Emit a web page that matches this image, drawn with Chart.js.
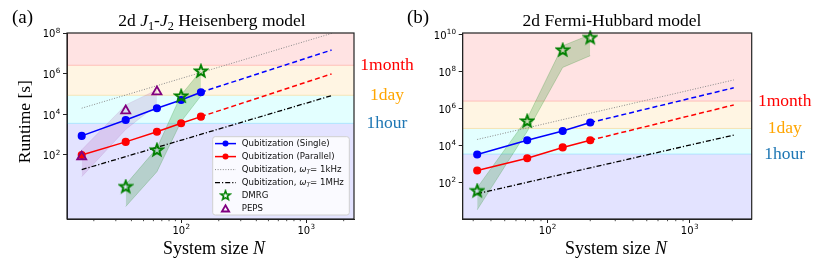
<!DOCTYPE html>
<html>
<head>
<meta charset="utf-8">
<script src="https://cdn.jsdelivr.net/npm/chart.js@4.4.1/dist/chart.umd.min.js"></script>
<style>
html, body { margin: 0; padding: 0; background: #fff; }
#wrap { position: relative; width: 822px; height: 265px; overflow: hidden; }
canvas { position: absolute; top: 0; }
#cA { left: 0; }
#cB { left: 400px; }
</style>
</head>
<body>
<div id="wrap">
  <canvas id="cA" width="420" height="265"></canvas>
  <canvas id="cB" width="422" height="265"></canvas>
</div>
<script>
// ------------------------------------------------------------------
// DATA  (a) 2d J1-J2 Heisenberg
// ------------------------------------------------------------------
const HB_N            = [16, 36, 64, 100, 144];
const HB_SINGLE       = [870, 5300, 20000, 51000, 122000];
const HB_PARALLEL     = [100, 440, 1400, 3650, 7700];
const HB_EXT_N        = [144, 1600];
const HB_SINGLE_EXT   = [122000, 1.45e7];
const HB_PARALLEL_EXT = [7700, 9.7e5];
const HB_RATE_N       = [16, 1600];
const HB_1KHZ         = [2.0e4, 9.5e7];
const HB_1MHZ         = [19, 8.3e4];
const HB_DMRG_N       = [36, 64, 100, 144];
const HB_DMRG         = [2.8, 178, 8.0e4, 1.35e6];
const HB_DMRG_HI      = [3.5, 220, 9.0e4, 1.4e6];
const HB_DMRG_LO      = [0.29, 15, 4400, 8.0e4];
const HB_PEPS_N       = [16, 36, 64];
const HB_PEPS         = [83, 1.5e4, 1.3e5];
const HB_PEPS_HI      = [180, 2.9e4, 1.6e5];
const HB_PEPS_LO      = [8.5, 1800, 2.9e4];

// ------------------------------------------------------------------
// DATA  (b) 2d Fermi-Hubbard
// ------------------------------------------------------------------
const FH_N            = [32, 72, 128, 200];
const FH_SINGLE       = [3400, 2.0e4, 6.3e4, 1.8e5];
const FH_PARALLEL     = [465, 2150, 8200, 2.0e4];
const FH_EXT_N        = [200, 2048];
const FH_SINGLE_EXT   = [1.8e5, 1.35e7];
const FH_PARALLEL_EXT = [2.0e4, 1.6e6];
const FH_RATE_N       = [32, 2048];
const FH_1KHZ         = [2.2e4, 3.6e7];
const FH_1MHZ         = [26, 3.8e4];
const FH_DMRG_N       = [32, 72, 128, 200];
const FH_DMRG         = [38, 2.2e5, 1.5e9, 7.0e9];
const FH_DMRG_HI      = [55, 3.0e5, 2.5e9, 1.0e10];
const FH_DMRG_LO      = [3.5, 6.0e4, 1.7e8, 7.3e8];

// ------------------------------------------------------------------
// AXES / LABELS
// ------------------------------------------------------------------
const HB_Y_TICKS = [1e2, 1e4, 1e6, 1e8];
const FH_Y_TICKS = [1e2, 1e4, 1e6, 1e8, 1e10];
const X_TICKS    = [100, 1000];
const HB_X_MINOR = [20, 30, 40, 50, 60, 70, 80, 90, 200, 300, 400, 500, 600, 700, 800, 900, 2000];
const FH_X_MINOR = [30, 40, 50, 60, 70, 80, 90, 200, 300, 400, 500, 600, 700, 800, 900, 2000];

const TIME_LIMITS = [3600, 86400, 2592000];          // 1 hour, 1 day, 1 month [s]
const TIME_LABELS = ["1hour", "1day", "1month"];
const TIME_COLORS = ["#1f77b4", "orange", "red"];

const LEGEND_LABELS = [
    "Qubitization (Single)",
    "Qubitization (Parallel)",
    "Qubitization, ω_T= 1kHz",
    "Qubitization, ω_T= 1MHz",
    "DMRG",
    "PEPS"
];

const SERIF = "'Liberation Serif', 'DejaVu Serif', serif";
const SANS  = "'DejaVu Sans', sans-serif";

// ------------------------------------------------------------------
function pts(xs, ys) {
    return xs.map((x, i) => ({ x: x, y: ys[i] }));
}

function starImage(color) {
    const c = document.createElement("canvas");
    c.width = 16; c.height = 16;
    const g = c.getContext("2d");
    g.beginPath();
    for (let k = 0; k < 10; k++) {
        const r = k % 2 ? 2.6 : 6.2;
        const a = -Math.PI / 2 + k * Math.PI / 5;
        g.lineTo(8 + r * Math.cos(a), 8.4 + r * Math.sin(a));
    }
    g.closePath();
    g.lineWidth = 1.9;
    g.strokeStyle = color;
    g.stroke();
    return c;
}
const STAR = starImage("#008000");

function fontOf(s, size, family) {
    return (s.i ? "italic " : "") + (s.sub ? size * 0.7 : size) + "px " + family;
}

function drawRich(ctx, segs, x, y, size, family, align) {
    let w = 0;
    segs.forEach(s => { ctx.font = fontOf(s, size, family); w += ctx.measureText(s.t).width; });
    let cx = align === "center" ? x - w / 2 : x;
    segs.forEach(s => {
        ctx.font = fontOf(s, size, family);
        ctx.fillText(s.t, cx, y + (s.sub ? size * 0.25 : 0));
        cx += ctx.measureText(s.t).width;
    });
}

// "10" with a raised exponent, like matplotlib's log tick labels
function drawPow(ctx, v, x, y, align) {
    const e = String(Math.round(Math.log10(v)));
    ctx.font = "10px " + SANS;
    const wb = ctx.measureText("10").width;
    ctx.font = "7.2px " + SANS;
    const we = ctx.measureText(e).width;
    const left = align === "right" ? x - wb - we : x - (wb + we) / 2;
    ctx.textAlign = "left";
    ctx.textBaseline = "alphabetic";
    ctx.font = "10px " + SANS;
    ctx.fillText("10", left, y);
    ctx.font = "7.2px " + SANS;
    ctx.fillText(e, left + wb + 0.3, y - 4.6);
}

function legendSegs(label) {
    if (!label.includes("ω_T")) return [{ t: label }];
    const [a, b] = label.split("ω_T");
    return [{ t: a }, { t: "ω", i: 1 }, { t: "T", i: 1, sub: 1 }, { t: b }];
}

// ------------------------------------------------------------------
// datasets
// ------------------------------------------------------------------
function lineDs(data, color, opts) {
    return Object.assign({
        data: data,
        borderColor: color,
        backgroundColor: color,
        borderWidth: 1.5,
        pointRadius: 0,
        fill: false,
        tension: 0
    }, opts || {});
}

function buildDatasets(p) {
    const ds = [
        // 0 DMRG
        lineDs(pts(p.dmrgN, p.dmrg), "#008000", { showLine: false, pointStyle: STAR, pointRadius: 6, clip: false }),
        // 1 PEPS
        lineDs(p.pepsN ? pts(p.pepsN, p.peps) : [], "#800080", {
            showLine: false, pointStyle: "triangle", pointRadius: 5.2,
            backgroundColor: "rgba(0,0,0,0)", pointBorderWidth: 1.8, clip: false
        }),
        // 2 single
        lineDs(pts(p.n, p.single), "#0000ff", { pointRadius: 3.3 }),
        // 3 parallel
        lineDs(pts(p.n, p.parallel), "#ff0000", { pointRadius: 3.3 }),
        // 4,5 extrapolations
        lineDs(pts(p.extN, p.singleExt), "#0000ff", { borderDash: [5, 3] }),
        lineDs(pts(p.extN, p.parallelExt), "#ff0000", { borderDash: [5, 3] }),
        // 6 1kHz
        lineDs(pts(p.rateN, p.khz), "#888888", { borderWidth: 1, borderDash: [1, 1.6] }),
        // 7 1MHz
        lineDs(pts(p.rateN, p.mhz), "#000000", { borderWidth: 1.3, borderDash: [5, 2, 1.2, 2] }),
        // 8,9 DMRG band
        lineDs(pts(p.dmrgN, p.dmrgHi), "rgba(0,128,0,0.25)", { borderWidth: 0.8, fill: "+1", backgroundColor: "rgba(0,128,0,0.2)" }),
        lineDs(pts(p.dmrgN, p.dmrgLo), "rgba(0,128,0,0.25)", { borderWidth: 0.8 })
    ];
    if (p.pepsN) {
        ds.push(lineDs(pts(p.pepsN, p.pepsHi), "rgba(128,0,128,0.12)", { borderWidth: 0.8, fill: "+1", backgroundColor: "rgba(128,0,128,0.12)" }));
        ds.push(lineDs(pts(p.pepsN, p.pepsLo), "rgba(128,0,128,0.12)", { borderWidth: 0.8 }));
    }
    return ds;
}

// ------------------------------------------------------------------
// plugins
// ------------------------------------------------------------------
const BAND_FILLS = ["rgba(0,0,255,0.11)", "rgba(0,255,255,0.11)", "rgba(255,165,0,0.11)", "rgba(255,0,0,0.11)"];
const BAND_EDGES = ["rgba(0,0,255,0.2)", "rgba(0,200,255,0.25)", "rgba(255,165,0,0.25)", "rgba(255,0,0,0.2)"];

function panelPlugin(p) {
    return {
        id: "panel_" + p.canvas,
        beforeDatasetsDraw(chart) {
            const ctx = chart.ctx, a = chart.chartArea, y = chart.scales.y;
            const edges = [y.min].concat(TIME_LIMITS).concat([y.max]);
            ctx.save();
            for (let i = 0; i < 4; i++) {
                const y0 = y.getPixelForValue(edges[i]);
                const y1 = y.getPixelForValue(edges[i + 1]);
                ctx.fillStyle = BAND_FILLS[i];
                ctx.fillRect(a.left, y1, a.right - a.left, y0 - y1);
            }
            for (let i = 0; i < TIME_LIMITS.length; i++) {
                const yy = y.getPixelForValue(TIME_LIMITS[i]);
                ctx.strokeStyle = BAND_EDGES[i + 1];
                ctx.lineWidth = 1;
                ctx.beginPath();
                ctx.moveTo(a.left, yy); ctx.lineTo(a.right, yy);
                ctx.stroke();
            }
            ctx.restore();
        },
        afterDraw(chart) {
            const ctx = chart.ctx, a = chart.chartArea, x = chart.scales.x, y = chart.scales.y;
            ctx.save();
            // frame
            ctx.strokeStyle = "#222";
            ctx.lineWidth = 1.2;
            ctx.strokeRect(a.left, a.top, a.right - a.left, a.bottom - a.top);
            // minor x ticks
            ctx.lineWidth = 0.8;
            p.xMinor.forEach(v => {
                const px = x.getPixelForValue(v);
                ctx.beginPath();
                ctx.moveTo(px, a.bottom); ctx.lineTo(px, a.bottom + 2.2);
                ctx.stroke();
            });
            // tick labels
            ctx.fillStyle = "#000";
            y.ticks.forEach(t => drawPow(ctx, t.value, a.left - 7, y.getPixelForValue(t.value) + 4.2, "right"));
            x.ticks.forEach(t => drawPow(ctx, t.value, x.getPixelForValue(t.value), a.bottom + 15, "center"));
            // time labels
            ctx.textAlign = "center";
            ctx.textBaseline = "alphabetic";
            ctx.font = "17.5px " + SERIF;
            TIME_LIMITS.forEach((v, i) => {
                ctx.fillStyle = TIME_COLORS[i];
                ctx.fillText(TIME_LABELS[i], a.right + 33, y.getPixelForValue(v) + 4.8);
            });
            // tag, title, x label
            ctx.fillStyle = "#000";
            ctx.textAlign = "left";
            ctx.font = "19px " + SERIF;
            ctx.fillText(p.tag, p.tagX, 22.5);
            drawRich(ctx, p.title, p.titleX, 26, 17.5, SERIF, "center");
            drawRich(ctx, [{ t: "System size " }, { t: "N", i: 1 }], p.xlabelX, 254, 18, SERIF, "center");
            if (p.ylabel) {
                ctx.translate(29.5, 121.7);
                ctx.rotate(-Math.PI / 2);
                ctx.textAlign = "center";
                ctx.font = "17.5px " + SERIF;
                ctx.fillText(p.ylabel, 0, 0);
                ctx.setTransform(1, 0, 0, 1, 0, 0);
            }
            ctx.restore();
            if (p.legend) drawLegend(chart);
        }
    };
}

function drawLegend(chart) {
    const ctx = chart.ctx;
    const ds = chart.data.datasets;
    const box = { x: 212.7, y: 136.7, w: 136.6, h: 78.3 };
    const rows = [2, 3, 6, 7, 0, 1];
    ctx.save();
    ctx.beginPath();
    ctx.roundRect(box.x, box.y, box.w, box.h, 2.5);
    ctx.fillStyle = "rgba(255,255,255,0.8)";
    ctx.fill();
    ctx.strokeStyle = "#d0d0d0";
    ctx.lineWidth = 1;
    ctx.stroke();
    rows.forEach((di, r) => {
        const d = ds[di];
        const yy = 143.6 + r * 13;
        if (di >= 2) {
            ctx.strokeStyle = d.borderColor;
            ctx.lineWidth = d.borderWidth;
            ctx.setLineDash(d.borderDash || []);
            ctx.beginPath();
            ctx.moveTo(215, yy); ctx.lineTo(236, yy);
            ctx.stroke();
            ctx.setLineDash([]);
            if (d.pointRadius > 0) {
                ctx.fillStyle = d.backgroundColor;
                ctx.beginPath();
                ctx.arc(225.5, yy, 3, 0, Math.PI * 2);
                ctx.fill();
            }
        } else if (di === 0) {
            ctx.save();
            ctx.translate(225.5, yy);
            ctx.scale(0.8, 0.8);
            ctx.drawImage(STAR, -8, -8.4);
            ctx.restore();
        } else {
            ctx.strokeStyle = d.borderColor;
            ctx.lineWidth = 1.8;
            const r = 4.2;
            ctx.beginPath();
            for (let k = 0; k < 3; k++) {
                const ang = -Math.PI / 2 + k * 2 * Math.PI / 3;
                ctx.lineTo(225.5 + r * Math.cos(ang), yy + 0.8 + r * Math.sin(ang));
            }
            ctx.closePath();
            ctx.stroke();
        }
        ctx.fillStyle = "#111";
        ctx.textBaseline = "middle";
        ctx.textAlign = "left";
        drawRich(ctx, legendSegs(LEGEND_LABELS[r]), 241.7, yy + 0.5, 8.6, SANS, "left");
    });
    ctx.restore();
}

// ------------------------------------------------------------------
function makePanel(p) {
    return new Chart(document.getElementById(p.canvas), {
        type: "line",
        data: { datasets: buildDatasets(p) },
        options: {
            responsive: false,
            animation: false,
            events: [],
            layout: { padding: { left: 0, right: p.padRight, top: 33, bottom: 0 } },
            plugins: { legend: { display: false }, tooltip: { enabled: false } },
            scales: {
                x: {
                    type: "logarithmic",
                    min: p.xMin, max: p.xMax,
                    afterBuildTicks: s => { s.ticks = X_TICKS.map(v => ({ value: v })); },
                    afterFit: s => { s.height = 46; },
                    ticks: { display: false },
                    grid: { drawOnChartArea: false, drawTicks: true, tickLength: 4, color: "#222" },
                    border: { display: true, color: "#222" }
                },
                y: {
                    type: "logarithmic",
                    min: p.yMin, max: p.yMax,
                    afterBuildTicks: s => { s.ticks = p.yTicks.map(v => ({ value: v })); },
                    afterFit: s => { s.width = p.yWidth; },
                    ticks: { display: false },
                    grid: { drawOnChartArea: false, drawTicks: true, tickLength: 4, color: "#222" },
                    border: { display: true, color: "#222" }
                }
            }
        },
        plugins: [panelPlugin(p)]
    });
}

makePanel({
    canvas: "cA", tag: "(a)", tagX: 12, titleX: 212, xlabelX: 214, ylabel: "Runtime [s]", legend: true,
    title: [{ t: "2d " }, { t: "J", i: 1 }, { t: "1", sub: 1 }, { t: "-" }, { t: "J", i: 1 }, { t: "2", sub: 1 }, { t: " Heisenberg model" }],
    xMin: 12.2, xMax: 2420, yMin: 0.071, yMax: 1e8, yTicks: HB_Y_TICKS, yWidth: 67, padRight: 66,
    xMinor: HB_X_MINOR,
    n: HB_N, single: HB_SINGLE, parallel: HB_PARALLEL,
    extN: HB_EXT_N, singleExt: HB_SINGLE_EXT, parallelExt: HB_PARALLEL_EXT,
    rateN: HB_RATE_N, khz: HB_1KHZ, mhz: HB_1MHZ,
    dmrgN: HB_DMRG_N, dmrg: HB_DMRG, dmrgHi: HB_DMRG_HI, dmrgLo: HB_DMRG_LO,
    pepsN: HB_PEPS_N, peps: HB_PEPS, pepsHi: HB_PEPS_HI, pepsLo: HB_PEPS_LO
});

makePanel({
    canvas: "cB", tag: "(b)", tagX: 7, titleX: 212, xlabelX: 216, ylabel: null, legend: false,
    title: [{ t: "2d Fermi-Hubbard model" }],
    xMin: 25.3, xMax: 2740, yMin: 1.12, yMax: 1.23e10, yTicks: FH_Y_TICKS, yWidth: 62.7, padRight: 70.3,
    xMinor: FH_X_MINOR,
    n: FH_N, single: FH_SINGLE, parallel: FH_PARALLEL,
    extN: FH_EXT_N, singleExt: FH_SINGLE_EXT, parallelExt: FH_PARALLEL_EXT,
    rateN: FH_RATE_N, khz: FH_1KHZ, mhz: FH_1MHZ,
    dmrgN: FH_DMRG_N, dmrg: FH_DMRG, dmrgHi: FH_DMRG_HI, dmrgLo: FH_DMRG_LO
});
</script>
</body>
</html>
